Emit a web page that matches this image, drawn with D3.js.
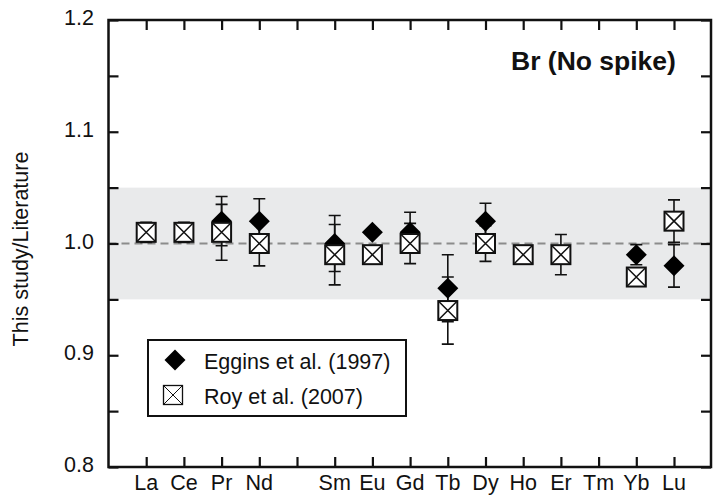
<!DOCTYPE html>
<html>
<head>
<meta charset="utf-8">
<script src="https://cdn.jsdelivr.net/npm/d3@7"></script>
<style>
  html, body { margin: 0; padding: 0; background: #fff; }
  svg text { font-family: "Liberation Sans", Arial, Helvetica, sans-serif; fill: #111; }
</style>
</head>
<body>
<svg id="chart" width="713" height="499"></svg>
<script>
// REE positions 1..15 (Pm has a tick but no label and no data)
const tickLabels = ["La", "Ce", "Pr", "Nd", "", "Sm", "Eu", "Gd", "Tb", "Dy", "Ho", "Er", "Tm", "Yb", "Lu"];

// Ratio this study / Eggins et al. (1997) and its uncertainty
const eggins    = [null, null, 1.02, 1.02, null, 1.00, 1.01, 1.01, 0.96, 1.02, null, null, null, 0.99, 0.98];
const egginsErr = [null, null, 0.022, 0.020, null, 0.025, null, 0.018, 0.030, 0.016, null, null, null, 0.009, 0.019];

// Ratio this study / Roy et al. (2007) and its uncertainty
const roy    = [1.01, 1.01, 1.01, 1.00, null, 0.99, 0.99, 1.00, 0.94, 1.00, 0.99, 0.99, null, 0.97, 1.02];
const royErr = [0.009, 0.009, 0.025, 0.020, null, 0.027, null, 0.018, 0.030, 0.016, null, 0.018, null, null, 0.019];

const yMajor = [0.8, 0.9, 1.0, 1.1, 1.2];
const yMinor = [0.8, 0.85, 0.9, 0.95, 1.0, 1.05, 1.1, 1.15, 1.2];
const band = [0.95, 1.05];

const svg = d3.select("#chart");
const plotLeft = 108.5, plotRight = 711, plotTop = 20, plotBottom = 467;

const x = d3.scaleLinear().domain([0, 16]).range([plotLeft, plotLeft + 16 * 37.7]);
const y = d3.scaleLinear().domain([0.8, 1.2]).range([plotBottom, plotTop]);

// shaded ±5 % band
svg.append("rect")
  .attr("x", plotLeft).attr("width", plotRight - plotLeft)
  .attr("y", y(band[1])).attr("height", y(band[0]) - y(band[1]))
  .attr("fill", "#e9eaeb");

// unity reference line
svg.append("line")
  .attr("x1", plotLeft).attr("x2", plotRight)
  .attr("y1", y(1)).attr("y2", y(1))
  .attr("stroke", "#8c8c8c").attr("stroke-width", 2)
  .attr("stroke-dasharray", "8,5");

// axes: inward ticks on all four sides
const tickLen = 10;
const xTicks = d3.range(1, 16);
const axL = d3.axisLeft(y).tickValues(yMinor).tickSize(-tickLen).tickFormat("");
const axR = d3.axisRight(y).tickValues(yMinor).tickSize(-tickLen).tickFormat("");
const axB = d3.axisBottom(x).tickValues(xTicks).tickSize(-tickLen).tickFormat("");
const axT = d3.axisTop(x).tickValues(xTicks).tickSize(-tickLen).tickFormat("");

function styleAxis(g) {
  g.select(".domain").remove();
  g.selectAll(".tick line").attr("stroke", "#111").attr("stroke-width", 2.2);
}
svg.append("g").attr("transform", `translate(${plotLeft},0)`).call(axL).call(styleAxis);
svg.append("g").attr("transform", `translate(${plotRight},0)`).call(axR).call(styleAxis);
svg.append("g").attr("transform", `translate(0,${plotBottom})`).call(axB).call(styleAxis);
svg.append("g").attr("transform", `translate(0,${plotTop})`).call(axT).call(styleAxis);

svg.append("rect")
  .attr("x", plotLeft).attr("y", plotTop)
  .attr("width", plotRight - plotLeft).attr("height", plotBottom - plotTop)
  .attr("fill", "none").attr("stroke", "#111").attr("stroke-width", 2.5);

// tick labels
svg.append("g").selectAll("text").data(yMajor).join("text")
  .attr("x", 94).attr("y", d => y(d) + 5)
  .attr("text-anchor", "end").attr("font-size", 21.5)
  .text(d => d.toFixed(1));

svg.append("g").selectAll("text").data(tickLabels).join("text")
  .attr("x", (d, i) => x(i + 1)).attr("y", 490)
  .attr("text-anchor", "middle").attr("font-size", 21.5)
  .text(d => d);

// y axis title
svg.append("text")
  .attr("transform", "translate(28,249) rotate(-90)")
  .attr("text-anchor", "middle").attr("font-size", 21.5)
  .text("This study/Literature");

// panel title
svg.append("text")
  .attr("x", 511).attr("y", 70)
  .attr("font-size", 26.5).attr("font-weight", "bold")
  .text("Br (No spike)");

// markers
const half = 10.5;
function diamond(g, cx, cy) {
  g.append("path")
    .attr("d", `M${cx},${cy - half}L${cx + half},${cy}L${cx},${cy + half}L${cx - half},${cy}Z`)
    .attr("fill", "#000");
}
function crossBox(g, cx, cy, w = 2, wc = 1.5) {
  const h = 9.5;
  g.append("rect")
    .attr("x", cx - h).attr("y", cy - h).attr("width", 2 * h).attr("height", 2 * h)
    .attr("fill", "#fff").attr("stroke", "#111").attr("stroke-width", w);
  g.append("path")
    .attr("d", `M${cx - h},${cy - h}L${cx + h},${cy + h}M${cx + h},${cy - h}L${cx - h},${cy + h}`)
    .attr("stroke", "#111").attr("stroke-width", wc).attr("fill", "none");
}
function errBar(g, cx, v, e) {
  const capW = 6;
  g.append("path")
    .attr("d", `M${cx},${y(v + e)}L${cx},${y(v - e)}` +
               `M${cx - capW},${y(v + e)}L${cx + capW},${y(v + e)}` +
               `M${cx - capW},${y(v - e)}L${cx + capW},${y(v - e)}`)
    .attr("stroke", "#111").attr("stroke-width", 1.6).attr("fill", "none");
}

const gErr = svg.append("g");
const gDia = svg.append("g");
const gBox = svg.append("g");

eggins.forEach((v, i) => {
  if (v == null) return;
  if (egginsErr[i] != null) errBar(gErr, x(i + 1), v, egginsErr[i]);
  diamond(gDia, x(i + 1), y(v));
});
roy.forEach((v, i) => {
  if (v == null) return;
  if (royErr[i] != null) errBar(gErr, x(i + 1), v, royErr[i]);
  crossBox(gBox, x(i + 1), y(v));
});

// legend
const lg = svg.append("g");
lg.append("rect")
  .attr("x", 148).attr("y", 340).attr("width", 258).attr("height", 76)
  .attr("fill", "#fff").attr("stroke", "#111").attr("stroke-width", 2);
diamond(lg, 175, 360);
crossBox(lg, 173, 395, 1.3, 1);
lg.append("text").attr("x", 204).attr("y", 369).attr("font-size", 21.5).text("Eggins et al. (1997)");
lg.append("text").attr("x", 204).attr("y", 404).attr("font-size", 21.5).text("Roy et al. (2007)");
</script>
</body>
</html>
